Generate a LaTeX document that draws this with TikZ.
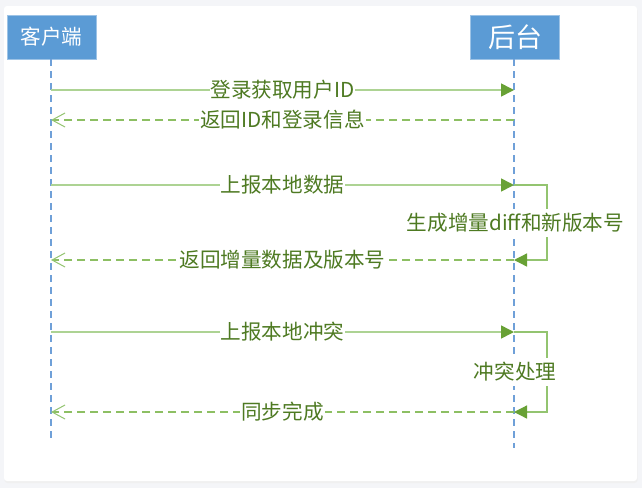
\documentclass[tikz,border=0pt]{standalone}
\usepackage{fontspec}
\setmainfont{Noto Sans CJK SC}
\usetikzlibrary{arrows.meta}
\definecolor{bgc}{HTML}{F4F5F8}
\definecolor{boxblue}{HTML}{5B9BD5}
\definecolor{lifeblue}{HTML}{6FA0D8}
\definecolor{msgline}{HTML}{ADD393}
\definecolor{dashline}{HTML}{8DBF63}
\definecolor{loopline}{HTML}{93C470}
\definecolor{headgreen}{HTML}{68A135}
\definecolor{txtgreen}{HTML}{4E7A22}
\tikzset{
  actor/.style={fill=boxblue, draw=boxblue!60!white, line width=0.6pt, minimum width=89pt, minimum height=44pt, inner sep=0pt, text=white},
  lifeline/.style={draw=lifeblue, line width=1.2pt, dash pattern=on 7pt off 5pt},
  filledhead/.style={-{Triangle[length=13pt,width=13pt,color=headgreen,fill=headgreen]}},
  msg/.style={draw=msgline, line width=1.6pt, filledhead},
  ret/.style={draw=dashline, line width=1.6pt, dash pattern=on 8pt off 5pt, -{Straight Barb[length=13pt,width=14pt,line width=1pt,color=loopline]}},
  selfloop/.style={draw=loopline, line width=1.3pt, filledhead},
  lbl/.style={fill=white, text=txtgreen, font=\fontsize{20.6}{22}\selectfont, inner xsep=1pt, inner ysep=4pt},
}
\begin{document}
\begin{tikzpicture}[x=1pt,y=-1pt]
\useasboundingbox (0,0) rectangle (642,488);
\fill[bgc] (0,0) rectangle (642,488);
\fill[black!6, rounded corners=3pt] (4.5,7.5) rectangle (637.5,483);
\fill[white, rounded corners=3pt] (4,6) rectangle (637,481);
% actors
\node[actor, font=\fontsize{20.6}{22}\selectfont] (client) at (51.5,37) {客户端};
\node[actor, font=\fontsize{27}{30}\selectfont] (server) at (515,37) {后台};
% lifeline ends
\coordinate (cend) at (51,438);
\coordinate (send) at (514,448);
\draw[lifeline] (client.south -| cend) -- (cend);
\draw[lifeline] (server.south -| send) -- (send);
% message anchors
\coordinate (c1) at (51,90);  \coordinate (s1) at (514,90);
\coordinate (c2) at (51,120); \coordinate (s2) at (514,120);
\coordinate (c3) at (51,185); \coordinate (s3) at (514,185);
\coordinate (c4) at (51,260); \coordinate (s4) at (514,260);
\coordinate (c5) at (51,332); \coordinate (s5) at (514,332);
\coordinate (c6) at (51,412); \coordinate (s6) at (514,412);
\coordinate (r3) at (547,185); \coordinate (r4) at (547,260);
\coordinate (r5) at (547,332); \coordinate (r6) at (547,412);
% messages
\draw[msg] (c1) -- node[lbl] (m1) {登录获取用户ID} (s1);
\draw[ret] (s2) -- node[lbl] (m2) {返回ID和登录信息} (c2);
\draw[msg] (c3) -- node[lbl] (m3) {上报本地数据} (s3);
\draw[selfloop] (s3) -- (r3) -- (r4) -- (s4);
\node[lbl] (p1) at (515.5,223) {生成增量diff和新版本号};
\draw[ret] (s4) -- node[lbl] (m4) {返回增量数据及版本号} (c4);
\draw[msg] (c5) -- node[lbl] (m5) {上报本地冲突} (s5);
\draw[selfloop] (s5) -- (r5) -- (r6) -- (s6);
\node[lbl] (p2) at (515,372) {冲突处理};
\draw[ret] (s6) -- node[lbl] (m6) {同步完成} (c6);
\end{tikzpicture}
\end{document}
